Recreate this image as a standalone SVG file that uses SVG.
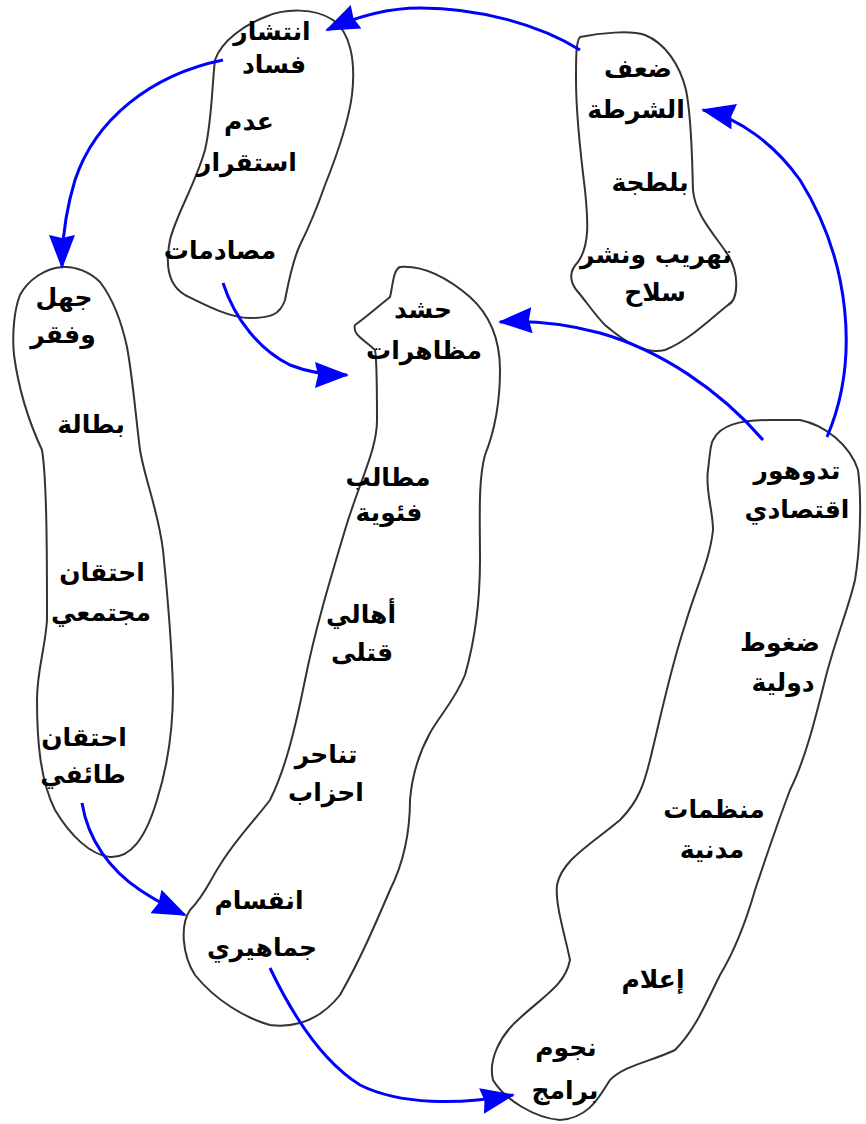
<svg xmlns="http://www.w3.org/2000/svg" width="866" height="1124" viewBox="0 0 866 1124">
<style>
.blob{fill:#fff;stroke:#333;stroke-width:2;stroke-linejoin:round}
.lbl{font-family:"DejaVu Sans","Noto Sans",sans-serif;font-size:25px;font-weight:bold;fill:#000;text-anchor:middle}
.conn{fill:none;stroke:#0000ff;stroke-width:3;marker-end:url(#ah)}
</style>
<defs>
<marker id="ah" markerUnits="userSpaceOnUse" markerWidth="34" markerHeight="26" viewBox="0 0 34 26" refX="32" refY="13" orient="auto">
<path d="M0,0 L34,13 L0,26 L3,13 Z" fill="#0000ff"/>
</marker>
</defs>
<rect width="866" height="1124" fill="#fff"/>
<g id="n-corruption">
<path class="blob" d="M215,60 C222,40 245,25 265,17 C285,8 315,8 333,20 C350,32 356,60 352,95 C348,125 335,160 325,185 C318,205 310,225 300,245 C292,262 288,285 285,300 C280,315 270,318 250,318 C230,318 205,305 185,295 C168,285 165,265 170,240 C176,215 195,185 205,150 C212,120 212,85 215,60 Z"/>
<text class="lbl" x="272" y="40">انتشار</text>
<text class="lbl" x="274" y="73">فساد</text>
<text class="lbl" x="249" y="130">عدم</text>
<text class="lbl" x="247" y="171">استقرار</text>
<text class="lbl" x="220" y="259">مصادمات</text>
</g>
<g id="n-police">
<path class="blob" d="M580,37 C600,33 630,30 645,35 C665,43 680,65 686,90 C692,120 692,160 693,190 C695,215 715,235 728,255 C740,275 738,300 728,305 C715,315 690,340 665,350 C645,355 625,342 605,325 C595,315 585,300 578,292 C570,283 568,272 578,262 C590,245 588,220 585,190 C580,150 576,110 576,80 C576,55 576,42 580,37 Z"/>
<text class="lbl" x="638" y="77">ضعف</text>
<text class="lbl" x="636" y="118">الشرطة</text>
<text class="lbl" x="650" y="191">بلطجة</text>
<text class="lbl" x="656" y="263">تهريب ونشر</text>
<text class="lbl" x="655" y="301">سلاح</text>
</g>
<g id="n-poverty">
<path class="blob" d="M63,267 C45,268 28,280 20,295 C14,310 12,335 14,355 C18,385 28,420 42,450 C47,480 47,560 47,620 C45,650 37,670 37,700 C37,740 40,780 55,810 C70,835 90,855 110,857 C130,858 145,840 157,800 C168,765 173,730 173,690 C172,650 168,600 163,550 C158,510 145,480 140,450 C135,410 133,380 127,347 C120,315 110,295 100,282 C90,272 75,266 63,267 Z"/>
<text class="lbl" x="64" y="306">جهل</text>
<text class="lbl" x="63" y="343">وفقر</text>
<text class="lbl" x="91" y="433">بطالة</text>
<text class="lbl" x="102" y="581">احتقان</text>
<text class="lbl" x="101" y="621">مجتمعي</text>
<text class="lbl" x="84" y="746">احتقان</text>
<text class="lbl" x="83" y="783">طائفي</text>
</g>
<g id="n-demonstrations">
<path class="blob" d="M400,267 C425,265 450,280 470,297 C490,315 500,340 500,370 C500,400 495,430 485,455 C478,480 480,520 480,560 C480,600 475,640 465,675 C455,700 440,715 430,733 C418,755 412,775 410,800 C410,830 405,860 390,890 C375,925 360,960 340,995 C320,1020 295,1028 270,1025 C245,1018 215,1000 195,975 C182,955 180,925 190,910 C205,895 210,880 220,865 C235,840 255,820 270,800 C285,770 295,730 305,680 C315,630 330,580 345,530 C360,480 377,450 377,420 C377,390 377,360 375,350 C365,340 352,335 355,325 C365,318 380,305 390,297 C393,285 393,270 400,267 Z"/>
<text class="lbl" x="423" y="318">حشد</text>
<text class="lbl" x="424" y="359">مظاهرات</text>
<text class="lbl" x="388" y="486">مطالب</text>
<text class="lbl" x="389" y="521">فئوية</text>
<text class="lbl" x="361" y="623">أهالي</text>
<text class="lbl" x="362" y="661">قتلى</text>
<text class="lbl" x="326" y="763">تناحر</text>
<text class="lbl" x="326" y="801">احزاب</text>
<text class="lbl" x="259" y="909">انقسام</text>
<text class="lbl" x="262" y="956">جماهيري</text>
</g>
<g id="n-economy">
<path class="blob" d="M713,440 C720,425 740,420 770,420 L800,420 C825,425 850,445 858,470 C862,500 860,550 855,580 C848,610 835,640 825,680 C815,720 805,760 790,790 C775,830 765,860 755,890 C745,925 735,950 720,975 C705,1005 695,1030 675,1050 C650,1062 625,1065 610,1080 C600,1095 590,1118 560,1120 C535,1118 505,1100 493,1080 C488,1060 500,1035 520,1018 C545,995 565,985 570,960 C565,935 555,905 557,885 C562,860 590,845 620,820 C640,800 645,780 650,760 C660,720 670,670 685,625 C695,590 710,560 713,530 C713,510 705,490 708,470 C710,455 710,445 713,440 Z"/>
<text class="lbl" x="797" y="479">تدوهور</text>
<text class="lbl" x="797" y="518">اقتصادي</text>
<text class="lbl" x="780" y="651">ضغوط</text>
<text class="lbl" x="783" y="691">دولية</text>
<text class="lbl" x="714" y="818">منظمات</text>
<text class="lbl" x="712" y="858">مدنية</text>
<text class="lbl" x="653" y="988">إعلام</text>
<text class="lbl" x="566" y="1056">نجوم</text>
<text class="lbl" x="565" y="1099">برامج</text>
</g>
<g id="connectors">
<path class="conn" d="M580,50 C540,25 480,8 420,8 C390,8 360,15 327,30"/>
<path class="conn" d="M827,437 C860,360 850,260 800,180 C775,145 740,118 703,110"/>
<path class="conn" d="M763,440 C720,390 660,350 600,333 C570,325 535,320 500,322"/>
<path class="conn" d="M223,60 C150,75 95,120 75,180 C66,210 62,240 62,267"/>
<path class="conn" d="M223,283 C235,320 260,350 290,365 C310,373 330,375 347,375"/>
<path class="conn" d="M82,803 C88,840 110,870 140,890 C155,900 170,908 185,915"/>
<path class="conn" d="M270,968 C290,1010 320,1060 360,1085 C400,1105 460,1105 513,1095"/>
</g>
</svg>
